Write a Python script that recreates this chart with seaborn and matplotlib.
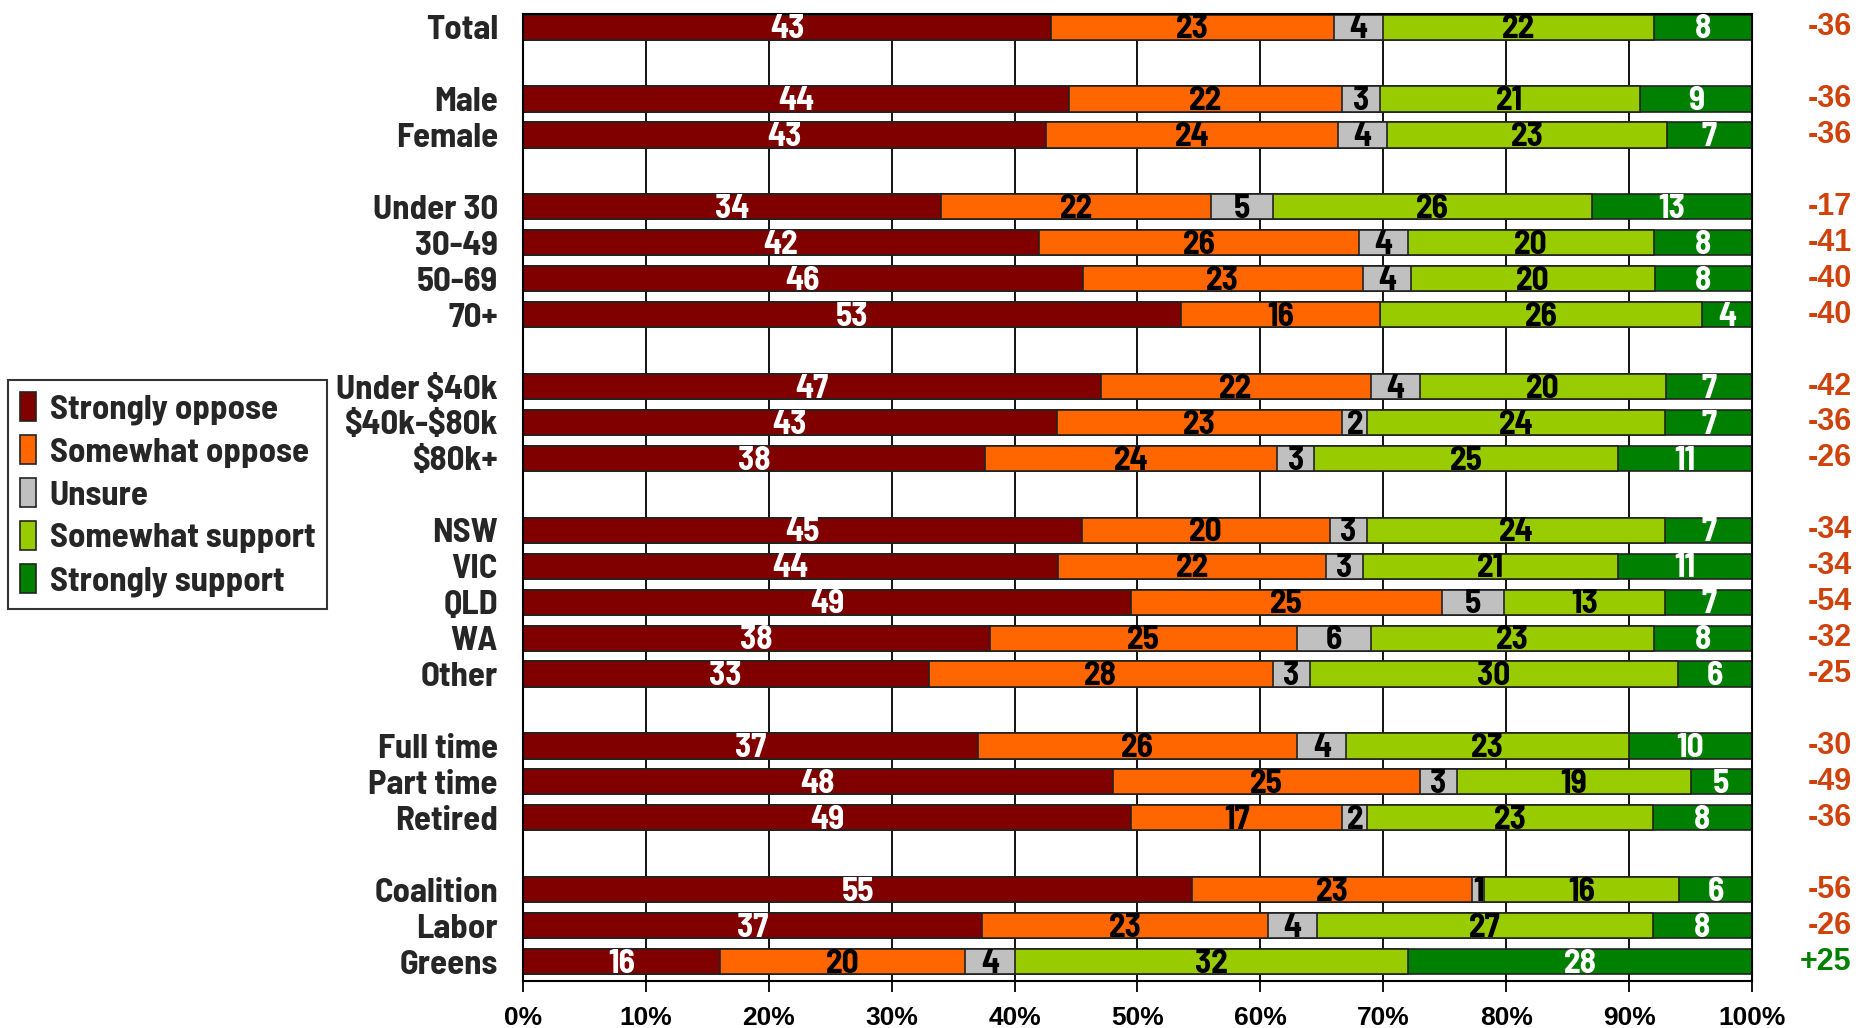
import numpy as np
import pandas as pd
import matplotlib
matplotlib.use("Agg")
import matplotlib.pyplot as plt
import matplotlib.transforms as mtransforms
from matplotlib.patches import Patch
import seaborn as sns

# rows of the chart, "" marks an empty spacer row
groups = ["Total", "",
          "Male", "Female", "",
          "Under 30", "30-49", "50-69", "70+", "",
          "Under $40k", "$40k-$80k", "$80k+", "",
          "NSW", "VIC", "QLD", "WA", "Other", "",
          "Full time", "Part time", "Retired", "",
          "Coalition", "Labor", "Greens"]

strongly_oppose = [43, None, 44, 43, None, 34, 42, 46, 53, None, 47, 43, 38, None,
                   45, 44, 49, 38, 33, None, 37, 48, 49, None, 55, 37, 16]
somewhat_oppose = [23, None, 22, 24, None, 22, 26, 23, 16, None, 22, 23, 24, None,
                   20, 22, 25, 25, 28, None, 26, 25, 17, None, 23, 23, 20]
unsure = [4, None, 3, 4, None, 5, 4, 4, 0, None, 4, 2, 3, None,
          3, 3, 5, 6, 3, None, 4, 3, 2, None, 1, 4, 4]
somewhat_support = [22, None, 21, 23, None, 26, 20, 20, 26, None, 20, 24, 25, None,
                    24, 21, 13, 23, 30, None, 23, 19, 23, None, 16, 27, 32]
strongly_support = [8, None, 9, 7, None, 13, 8, 8, 4, None, 7, 7, 11, None,
                    7, 11, 7, 8, 6, None, 10, 5, 8, None, 6, 8, 28]
net = ["-36", "", "-36", "-36", "", "-17", "-41", "-40", "-40", "",
       "-42", "-36", "-26", "", "-34", "-34", "-54", "-32", "-25", "",
       "-30", "-49", "-36", "", "-56", "-26", "+25"]

series_names = ["Strongly oppose", "Somewhat oppose", "Unsure",
                "Somewhat support", "Strongly support"]
colors = ["#800000", "#FF6600", "#C0C0C0", "#99CC00", "#008000"]
text_colors = ["white", "black", "black", "black", "white"]

NARROW = ["Barlow Semi Condensed", "DejaVu Sans"]
ARIAL = ["Liberation Sans", "DejaVu Sans"]

# unique names for the spacer rows so seaborn keeps them as categories
row_names = []
for i, g in enumerate(groups):
    row_names.append(g if g else " " * (i + 1))

df = pd.DataFrame({"row": row_names,
                   series_names[0]: strongly_oppose,
                   series_names[1]: somewhat_oppose,
                   series_names[2]: unsure,
                   series_names[3]: somewhat_support,
                   series_names[4]: strongly_support}).astype({s: float for s in series_names})

# scale every row to 100%
vals = df[series_names]
shares = vals.div(vals.sum(axis=1), axis=0) * 100
cum = shares.cumsum(axis=1)

sns.set_style("white")
plt.rcParams["font.family"] = NARROW
plt.rcParams["font.weight"] = "bold"

fig = plt.figure(figsize=(18.71, 10.28), dpi=100)
ax = fig.add_axes([0.2795, 0.0457, 0.6569, 0.9407])

# grid first, behind bars
for x in range(10, 100, 10):
    ax.axvline(x, color="black", lw=1.3, zorder=0)

# draw cumulative bars from the longest to the shortest
for k in range(len(series_names) - 1, -1, -1):
    plot_df = pd.DataFrame({"row": row_names, "cum": cum[series_names[k]]})
    sns.barplot(data=plot_df, x="cum", y="row", order=row_names, color=colors[k],
                orient="h", width=0.7, errorbar=None, edgecolor="#222222",
                linewidth=1.2, saturation=1, ax=ax, zorder=2)

# value labels inside the segments
for i in range(len(row_names)):
    if not groups[i]:
        continue
    left = 0
    for k, s in enumerate(series_names):
        w = shares.loc[i, s]
        v = vals.loc[i, s]
        if v > 0:
            ax.text(left + w / 2, i + 0.06, f"{int(v)}", ha="center", va="center",
                    color=text_colors[k], fontsize=24, fontweight="bold",
                    family=NARROW, zorder=5)
        left += w

# net values to the right
trans = mtransforms.blended_transform_factory(ax.transAxes, ax.transData)
for i, n in enumerate(net):
    if n:
        ax.text(1.081, i, n, transform=trans, ha="right", va="center",
                color="#008000" if n.startswith("+") else "#D0420C",
                fontsize=22, fontweight="bold", family=ARIAL)

ax.set_xlim(0, 100)
ax.set_ylim(26.54, -0.365)
ax.set_xticks(range(0, 101, 10))
ax.set_xticklabels([f"{t}%" for t in range(0, 101, 10)], fontsize=19, fontweight="bold",
                   family=ARIAL)
ax.set_yticks(range(len(row_names)))
ax.set_yticklabels([g.replace("$", "\\$") for g in groups], fontsize=25, fontweight="bold")
ax.tick_params(axis="x", direction="out", length=8, width=1.3, pad=10, colors="black", bottom=True)
ax.tick_params(axis="y", length=0, pad=18)
ax.set_xlabel("")
ax.set_ylabel("")
for sp in ax.spines.values():
    sp.set_visible(True)
    sp.set_color("black")
    sp.set_linewidth(1.5)

handles = [Patch(facecolor=c, edgecolor="#222222", lw=1.2) for c in colors]
leg = fig.legend(handles, series_names, loc="upper left",
                 bbox_to_anchor=(8 / 1871, 1 - 380 / 1028), borderaxespad=0,
                 frameon=True, fancybox=False, edgecolor="black",
                 prop={"family": NARROW, "weight": "bold", "size": 25},
                 handlelength=0.45, handleheight=0.9, handletextpad=0.4,
                 labelspacing=0.3, borderpad=0.35)
leg.get_frame().set_linewidth(1.5)

fig.savefig("out.png", dpi=100)
